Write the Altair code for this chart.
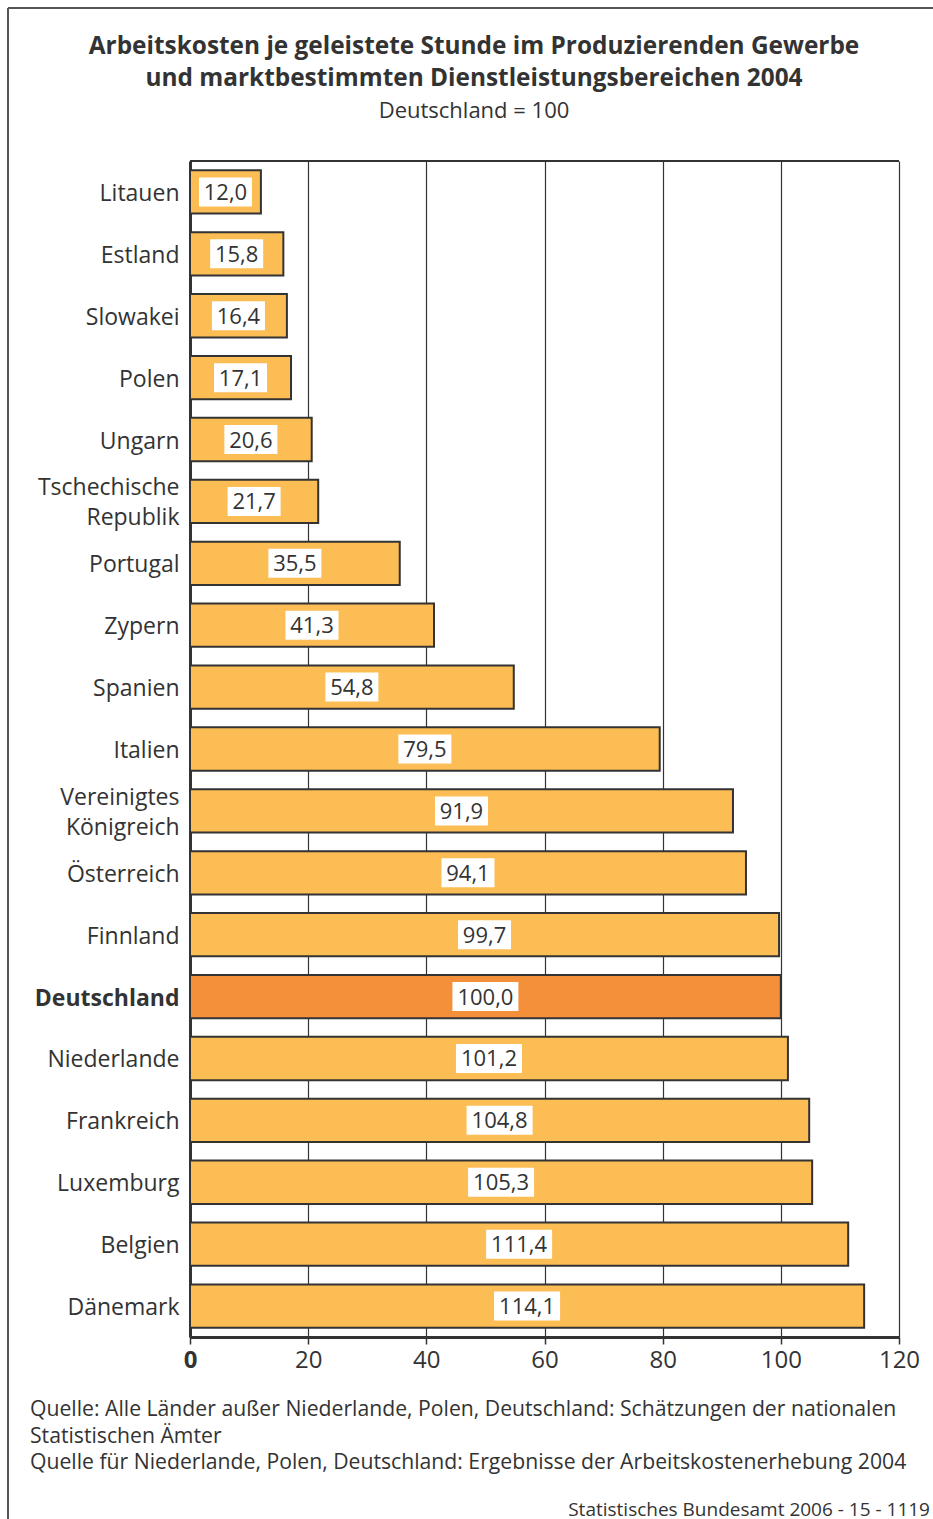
import altair as alt
import pandas as pd

# Labour cost per hour worked, Germany = 100 (2004)
countries = [
    "Litauen", "Estland", "Slowakei", "Polen", "Ungarn",
    "Tschechische\nRepublik", "Portugal", "Zypern", "Spanien", "Italien",
    "Vereinigtes\nKönigreich", "Österreich", "Finnland", "Deutschland",
    "Niederlande", "Frankreich", "Luxemburg", "Belgien", "Dänemark",
]
values = [
    12.0, 15.8, 16.4, 17.1, 20.6,
    21.7, 35.5, 41.3, 54.8, 79.5,
    91.9, 94.1, 99.7, 100.0,
    101.2, 104.8, 105.3, 111.4, 114.1,
]
x_ticks = [0, 20, 40, 60, 80, 100, 120]

title_lines = [
    "Arbeitskosten je geleistete Stunde im Produzierenden Gewerbe",
    "und marktbestimmten Dienstleistungsbereichen 2004",
]
subtitle = "Deutschland = 100"
source_lines = [
    "Quelle: Alle Länder außer Niederlande, Polen, Deutschland: Schätzungen der nationalen",
    "Statistischen Ämter",
    "Quelle für Niederlande, Polen, Deutschland: Ergebnisse der Arbeitskostenerhebung 2004",
]
credit = "Statistisches Bundesamt 2006 - 15 - 1119"

FONT = "Open Sans"
INK = "#333333"
BAR = "#FDBD55"
BAR_REF = "#F48F3A"

df = pd.DataFrame({"land": countries, "wert": values})
df["label"] = [f"{v:.1f}".replace(".", ",") for v in values]

W, H = 709, 1176
one = pd.DataFrame({"t": [0]})

y_enc = alt.Y(
    "land:N",
    sort=countries,
    scale=alt.Scale(paddingInner=0.3, paddingOuter=0.15),
    axis=alt.Axis(
        title=None,
        ticks=False,
        labelPadding=11,
        labelFontSize=23,
        labelFont=FONT,
        labelColor=INK,
        labelLineHeight=30,
        labelExpr="split(datum.value, '\\n')",
        labelOffset=alt.expr("indexof(datum.value, '\\n') >= 0 ? -13 : 2"),
        labelFontWeight=alt.expr("datum.value == 'Deutschland' ? 'bold' : 'normal'"),
        domainColor=INK,
        domainWidth=3,
        grid=False,
    ),
)

x_scale = alt.Scale(domain=[0, 120], nice=False, zero=True)

bars = alt.Chart(df).mark_bar(stroke=INK, strokeWidth=2).encode(
    x=alt.X(
        "wert:Q",
        scale=x_scale,
        axis=alt.Axis(
            title=None,
            values=x_ticks,
            labelFontSize=24,
            labelFont=FONT,
            labelColor=INK,
            labelPadding=4,
            labelFlush=False,
            labelFontWeight=alt.expr("datum.value == 0 ? 'bold' : 'normal'"),
            tickSize=7,
            tickWidth=1.5,
            tickColor=INK,
            domainColor=INK,
            domainWidth=3,
            grid=True,
            gridColor=INK,
            gridWidth=1.2,
            gridOpacity=1,
        ),
    ),
    y=y_enc,
    color=alt.condition(
        alt.datum.land == "Deutschland", alt.value(BAR_REF), alt.value(BAR)
    ),
)

# White label boxes centred in each bar, width follows the number of characters
boxes = (
    alt.Chart(df)
    .transform_calculate(
        mid="datum.wert / 2",
        bw="13 * length(datum.label) + 1",
    )
    .transform_calculate(
        sz="datum.bw * datum.bw",
        shp="'M-1,' + (-29 / datum.bw) + 'L1,' + (-29 / datum.bw) + 'L1,' + (29 / datum.bw) + 'L-1,' + (29 / datum.bw) + 'Z'",
    )
    .mark_point(filled=True, fill="white", opacity=1, strokeWidth=0)
    .encode(
        x=alt.X("mid:Q", scale=x_scale),
        y=alt.Y("land:N", sort=countries),
        size=alt.Size("sz:Q", scale=None, legend=None),
        shape=alt.Shape("shp:N", scale=None, legend=None),
    )
)

labels = (
    alt.Chart(df)
    .transform_calculate(mid="datum.wert / 2")
    .mark_text(font=FONT, fontSize=22, color=INK, align="center", baseline="middle", dy=1)
    .encode(
        x=alt.X("mid:Q", scale=x_scale),
        y=alt.Y("land:N", sort=countries),
        text="label:N",
    )
)

# Top edge of the plot frame (the right edge is the gridline at 120)
plot_top = alt.Chart(one).mark_rule(color=INK, strokeWidth=2).encode(
    x=alt.value(0), x2=alt.value(W), y=alt.value(0)
)

# Heading: two bold lines and the base note
heading = alt.Chart(one).mark_text(
    text=title_lines,
    font=FONT,
    fontSize=24.4,
    fontWeight="bold",
    color=INK,
    align="center",
    baseline="middle",
    lineHeight=32,
).encode(x=alt.value(284), y=alt.value(-114))

sub = alt.Chart(one).mark_text(
    text=subtitle,
    font=FONT,
    fontSize=22,
    color=INK,
    align="center",
    baseline="middle",
).encode(x=alt.value(284), y=alt.value(-50))

# Source notes under the axis and the publisher credit
sources = alt.Chart(one).mark_text(
    text=source_lines,
    font=FONT,
    fontSize=21.2,
    color=INK,
    align="left",
    baseline="middle",
    lineHeight=26.5,
).encode(x=alt.value(-160), y=alt.value(1249))

credit_text = alt.Chart(one).mark_text(
    text=credit,
    font=FONT,
    fontSize=19,
    color=INK,
    align="right",
    baseline="middle",
).encode(x=alt.value(740), y=alt.value(1349))

# Outer frame: top and left edges of the figure box
frame_top = alt.Chart(one).mark_rule(color="#555555", strokeWidth=2).encode(
    x=alt.value(-182), x2=alt.value(745), y=alt.value(-153)
)
frame_left = alt.Chart(one).mark_rule(color="#555555", strokeWidth=2).encode(
    x=alt.value(-182), y=alt.value(-153), y2=alt.value(1360)
)

chart = (
    alt.layer(plot_top, bars, boxes, labels, heading, sub, sources, credit_text, frame_top, frame_left)
    .properties(
        width=W,
        height=H,
        autosize=alt.AutoSizeParams(type="none"),
        padding={"left": 190, "top": 161, "right": 34, "bottom": 182},
    )
    .configure_view(strokeWidth=0)
    .configure(background="white")
)

chart.save("out.html", embed_options={"renderer": "svg", "actions": False})
